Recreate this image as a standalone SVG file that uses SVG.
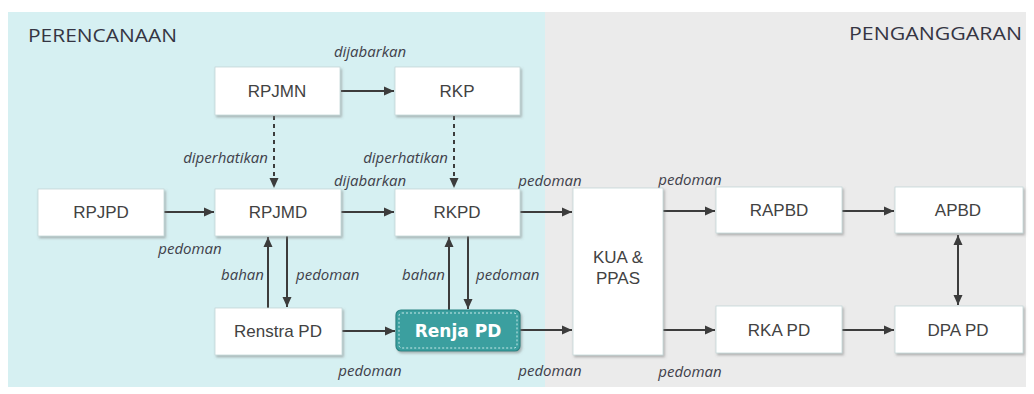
<svg xmlns="http://www.w3.org/2000/svg" width="1034" height="394" viewBox="0 0 1034 394">
<style>
.box{fill:#ffffff;stroke:#c4d6d8;stroke-width:0.8;filter:url(#sh)}
.bt{font-family:"Liberation Sans",Arial,sans-serif;font-size:17px;fill:#424242;text-anchor:middle}
.lbl{font-family:"Open Sans","DejaVu Sans",sans-serif;font-style:italic;font-size:15px;fill:#40404a}
.ttl{font-family:"Open Sans","DejaVu Sans",sans-serif;font-size:18px;fill:#353543}
.ln{stroke:#3c3c3c;stroke-width:2;fill:none;marker-end:url(#ah)}
.dash{stroke-dasharray:4 4}
</style>
<defs>
<filter id="sh" x="-10%" y="-10%" width="125%" height="130%">
<feDropShadow dx="1.5" dy="2" stdDeviation="1.2" flood-color="#7a7a7a" flood-opacity="0.5"/>
</filter>
<marker id="ah" markerUnits="userSpaceOnUse" markerWidth="11" markerHeight="10" refX="10" refY="5" orient="auto-start-reverse" viewBox="0 0 11 10">
<path d="M0,0.5 L10,5 L0,9.5 z" fill="#3c3c3c"/>
</marker>
</defs>
<rect x="0" y="0" width="1034" height="394" fill="#ffffff"/>
<rect x="8" y="12" width="537" height="375" fill="#d6f0f2"/>
<rect x="545" y="12" width="481" height="375" fill="#ebebeb"/>
<text class="ttl" x="28" y="42" textLength="149" lengthAdjust="spacingAndGlyphs">PERENCANAAN</text>
<text class="ttl" x="849" y="40" textLength="173" lengthAdjust="spacingAndGlyphs">PENGANGGARAN</text>

<g id="connectors">
<line class="ln" x1="341" y1="91" x2="394" y2="91"/>
<line class="ln dash" x1="274" y1="116" x2="274" y2="188"/>
<line class="ln dash" x1="454" y1="116" x2="454" y2="188"/>
<line class="ln" x1="164" y1="212" x2="214" y2="212"/>
<line class="ln" x1="341" y1="212" x2="394" y2="212"/>
<line class="ln" x1="520" y1="212" x2="572" y2="212"/>
<line class="ln" x1="663" y1="211" x2="715" y2="211"/>
<line class="ln" x1="842" y1="211" x2="894" y2="211"/>
<line class="ln" x1="268" y1="308" x2="268" y2="237"/>
<line class="ln" x1="287" y1="236" x2="287" y2="307"/>
<line class="ln" x1="449" y1="310" x2="449" y2="237"/>
<line class="ln" x1="468" y1="236" x2="468" y2="309"/>
<line class="ln" x1="342" y1="331" x2="395" y2="331"/>
<line class="ln" x1="520" y1="330" x2="572" y2="330"/>
<line class="ln" x1="663" y1="330" x2="715" y2="330"/>
<line class="ln" x1="842" y1="330" x2="894" y2="330"/>
<line class="ln" x1="958" y1="235" x2="958" y2="305" marker-start="url(#ah)"/>
<text class="lbl" x="370" y="57" text-anchor="middle">dijabarkan</text>
<text class="lbl" x="268" y="163" text-anchor="end">diperhatikan</text>
<text class="lbl" x="448" y="163" text-anchor="end">diperhatikan</text>
<text class="lbl" x="370" y="186" text-anchor="middle">dijabarkan</text>
<text class="lbl" x="550" y="186" text-anchor="middle">pedoman</text>
<text class="lbl" x="690" y="185" text-anchor="middle">pedoman</text>
<text class="lbl" x="190" y="254" text-anchor="middle">pedoman</text>
<text class="lbl" x="264" y="280" text-anchor="end">bahan</text>
<text class="lbl" x="296" y="280">pedoman</text>
<text class="lbl" x="445" y="280" text-anchor="end">bahan</text>
<text class="lbl" x="476" y="280">pedoman</text>
<text class="lbl" x="370" y="376" text-anchor="middle">pedoman</text>
<text class="lbl" x="550" y="376" text-anchor="middle">pedoman</text>
<text class="lbl" x="690" y="377" text-anchor="middle">pedoman</text>
</g>

<g id="node-rpjmn"><rect class="box" x="215" y="67" width="125" height="48"/><text class="bt" x="277" y="97">RPJMN</text></g>
<g id="node-rkp"><rect class="box" x="395" y="67" width="125" height="48"/><text class="bt" x="457" y="97">RKP</text></g>
<g id="node-rpjpd"><rect class="box" x="38" y="189" width="126" height="47"/><text class="bt" x="101" y="218">RPJPD</text></g>
<g id="node-rpjmd"><rect class="box" x="215" y="189" width="126" height="47"/><text class="bt" x="278" y="218">RPJMD</text></g>
<g id="node-rkpd"><rect class="box" x="395" y="189" width="125" height="47"/><text class="bt" x="457" y="218">RKPD</text></g>
<g id="node-renstra"><rect class="box" x="215" y="308" width="127" height="47"/><text class="bt" x="278" y="337">Renstra PD</text></g>
<g id="node-renja"><rect x="396" y="310" width="124" height="41" rx="5" fill="#3a9f9f" stroke="#2b8585" stroke-width="1.2" filter="url(#sh)"/><rect x="399" y="313" width="118" height="35" rx="3" fill="none" stroke="#d8f2f2" stroke-width="0.9" stroke-dasharray="2 2"/><text x="458" y="337" text-anchor="middle" font-family="'DejaVu Sans',sans-serif" font-weight="bold" font-size="17" fill="#ffffff">Renja PD</text></g>
<g id="node-kua"><rect class="box" x="573" y="188" width="90" height="167"/><text class="bt" x="618" y="263">KUA &amp;</text><text class="bt" x="618" y="284">PPAS</text></g>
<g id="node-rapbd"><rect class="box" x="716" y="187" width="126" height="46"/><text class="bt" x="779" y="216">RAPBD</text></g>
<g id="node-apbd"><rect class="box" x="895" y="187" width="128" height="46"/><text class="bt" x="958" y="216">APBD</text></g>
<g id="node-rkapd"><rect class="box" x="716" y="306" width="126" height="47"/><text class="bt" x="779" y="336">RKA PD</text></g>
<g id="node-dpapd"><rect class="box" x="895" y="306" width="128" height="47"/><text class="bt" x="958" y="336">DPA PD</text></g>
</svg>
